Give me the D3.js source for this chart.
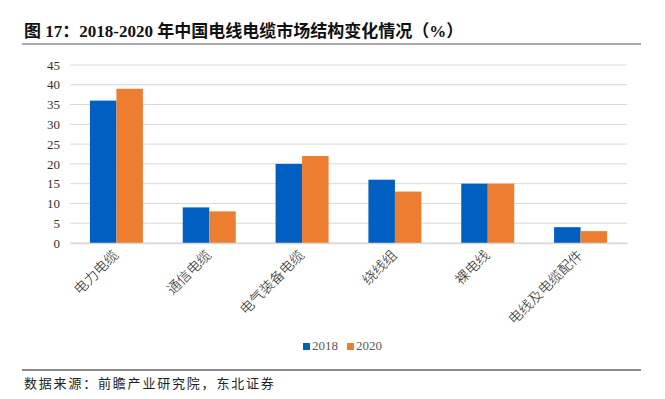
<!DOCTYPE html>
<html>
<head>
<meta charset="utf-8">
<script src="https://cdn.jsdelivr.net/npm/d3@7"></script>
<style>
  body { margin: 0; background: #fff; }
  svg text { font-family: "Liberation Serif", "Noto Sans CJK SC", serif; }
</style>
</head>
<body>
<div id="chart"></div>
<script>
// data
var categories = ["电力电缆", "通信电缆", "电气装备电缆", "绕线组", "裸电线", "电线及电缆配件"];
var seriesNames = ["2018", "2020"];
var values2018 = [36, 9, 20, 16, 15, 4];
var values2020 = [39, 8, 22, 13, 15, 3];
var yTicks = [0, 5, 10, 15, 20, 25, 30, 35, 40, 45];
var colors = ["#005FC1", "#ED7D31"];

var W = 665, H = 399;
var svg = d3.select("#chart").append("svg")
    .attr("width", W)
    .attr("height", H);

// title + rules
svg.append("text")
    .attr("x", 24).attr("y", 37)
    .style("font-size", "17px")
    .style("font-weight", "bold")
    .style("fill", "#111")
    .text("图 17：2018-2020 年中国电线电缆市场结构变化情况（%）");
svg.append("line")
    .attr("x1", 22).attr("x2", 641).attr("y1", 44).attr("y2", 44)
    .style("stroke", "#555").style("stroke-width", 1.2);
svg.append("line")
    .attr("x1", 22).attr("x2", 641).attr("y1", 370).attr("y2", 370)
    .style("stroke", "#666").style("stroke-width", 1.5);
svg.append("text")
    .attr("x", 24).attr("y", 388)
    .style("font-size", "13px")
    .style("letter-spacing", "1.8px")
    .style("fill", "#222")
    .text("数据来源：前瞻产业研究院，东北证券");

// plot area
var plotLeft = 70, plotRight = 627, plotTop = 65, plotBottom = 243;
var x = d3.scaleBand().domain(categories).range([plotLeft, plotRight]);
var x1 = d3.scaleBand().domain(seriesNames).range([0, 53]);
var y = d3.scaleLinear().domain([0, 45]).range([plotBottom, plotTop]);

svg.append("g")
    .selectAll("line")
    .data(yTicks)
    .enter().append("line")
    .attr("x1", plotLeft).attr("x2", plotRight)
    .attr("y1", function(d) { return y(d); })
    .attr("y2", function(d) { return y(d); })
    .style("stroke", "#d9d9d9").style("stroke-width", 1);

var yAxis = svg.append("g")
    .attr("transform", "translate(" + (plotLeft - 2) + ",0)")
    .call(d3.axisLeft(y).tickValues(yTicks).tickSize(0).tickPadding(8));
yAxis.select(".domain").remove();
yAxis.selectAll("text")
    .style("font-size", "13px")
    .style("fill", "#333")
    .style("font-family", "Liberation Serif, serif");

var rows = categories.map(function(c, i) {
  return { cat: c, vals: [values2018[i], values2020[i]] };
});

var groups = svg.append("g").selectAll("g")
    .data(rows)
    .enter().append("g")
    .attr("transform", function(d) { return "translate(" + (x(d.cat) + x.bandwidth() / 2 - 26.5) + ",0)"; });

groups.selectAll("rect")
    .data(function(d) { return d.vals.map(function(v, j) { return { key: seriesNames[j], v: v, j: j }; }); })
    .enter().append("rect")
    .attr("x", function(d) { return x1(d.key); })
    .attr("width", x1.bandwidth())
    .attr("y", function(d) { return y(d.v); })
    .attr("height", function(d) { return plotBottom - y(d.v); })
    .style("fill", function(d) { return colors[d.j]; });

// x axis
var xAxis = svg.append("g")
    .attr("transform", "translate(0," + plotBottom + ")")
    .call(d3.axisBottom(x).tickSize(0).tickPadding(0));
xAxis.select(".domain")
    .style("stroke", "#d9d9d9").style("stroke-width", 1.5);
xAxis.selectAll("text")
    .style("font-size", "14px")
    .style("fill", "#222")
    .style("font-family", "Noto Sans CJK SC, sans-serif")
    .style("font-weight", "300")
    .style("text-anchor", "end")
    .attr("dy", "0")
    .attr("transform", "translate(3,13) rotate(-45)");

// legend
var legend = svg.append("g").selectAll("g")
    .data(seriesNames)
    .enter().append("g")
    .attr("transform", function(d, i) { return "translate(" + (303 + i * 44) + ",343)"; });
legend.append("rect")
    .attr("width", 7).attr("height", 7)
    .style("fill", function(d, i) { return colors[i]; });
legend.append("text")
    .attr("x", 9).attr("y", 7)
    .style("font-size", "13px")
    .style("fill", "#595959")
    .text(function(d) { return d; });
</script>
</body>
</html>
